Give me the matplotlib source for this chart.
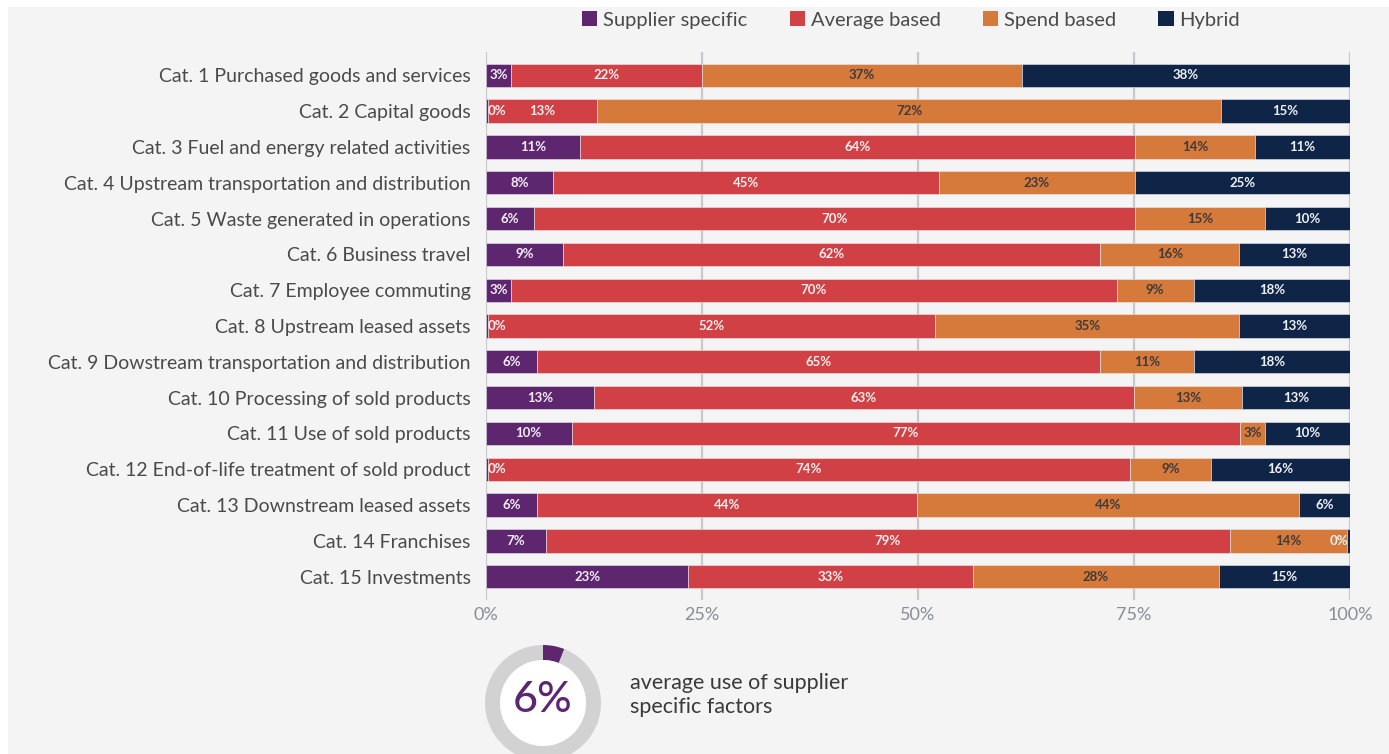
import numpy as np
import matplotlib.pyplot as plt
from matplotlib.patches import Patch, Circle

# ----------------------------
# Data (share of emission factor type per Scope 3 category, %)
# ----------------------------
categories = [
    'Cat. 1 Purchased goods and services',
    'Cat. 2 Capital goods',
    'Cat. 3 Fuel and energy related activities',
    'Cat. 4 Upstream transportation and distribution',
    'Cat. 5 Waste generated in operations',
    'Cat. 6 Business travel',
    'Cat. 7 Employee commuting',
    'Cat. 8 Upstream leased assets',
    'Cat. 9 Dowstream transportation and distribution',
    'Cat. 10 Processing of sold products',
    'Cat. 11 Use of sold products',
    'Cat. 12 End-of-life treatment of sold product',
    'Cat. 13 Downstream leased assets',
    'Cat. 14 Franchises',
    'Cat. 15 Investments',
]
supplier = [2.9, 0.2, 10.9, 7.8, 5.5, 8.9, 2.9, 0.2, 5.9, 12.5, 9.9, 0.2, 5.9, 6.9, 23.4]
average = [22.1, 12.7, 64.2, 44.6, 69.6, 62.2, 70.1, 51.8, 65.2, 62.5, 77.4, 74.3, 44.0, 79.2, 33.0]
spend = [37.0, 72.2, 13.9, 22.7, 15.1, 16.1, 8.9, 35.2, 10.8, 12.5, 2.9, 9.4, 44.2, 13.6, 28.4]
hybrid = [38.0, 14.9, 11.0, 24.9, 9.8, 12.8, 18.1, 12.8, 18.1, 12.5, 9.8, 16.1, 5.9, 0.3, 15.2]

series_names = ['Supplier specific', 'Average based', 'Spend based', 'Hybrid']
series_colors = ['#5d266e', '#d04045', '#d67a3c', '#0f2548']
label_colors = ['#f2eef4', '#f6eeee', '#3d3a3a', '#eef0f4']

xticks = [0, 25, 50, 75, 100]
xtick_labels = ['0%', '25%', '50%', '75%', '100%']

avg_supplier_share = 6
donut_text = 'average use of supplier\nspecific factors'

BG = '#f3f4f3'
FONT = 'Lato'

plt.rcParams['font.family'] = [FONT, 'DejaVu Sans']

# ----------------------------
# Figure
# ----------------------------
W, H = 1389, 754
fig = plt.figure(figsize=(W / 100, H / 100), dpi=100)
fig.patch.set_facecolor('white')
# light panel behind everything
fig.patches.append(plt.Rectangle((8 / W, 0), 1, 1 - 7 / H, transform=fig.transFigure,
                                 facecolor=BG, edgecolor='none', zorder=-10))

ax = fig.add_axes([486 / W, 1 - 600 / H, 864 / W, 548 / H])
ax.set_facecolor(BG)

y = np.arange(len(categories))
data = [supplier, average, spend, hybrid]
left = np.zeros(len(categories))
half_w = 1.3  # keep labels inside the 0-100 range

for vals, color, tcol in zip(data, series_colors, label_colors):
    vals = np.array(vals)
    ax.barh(y, vals, left=left, height=0.65, color=color,
            edgecolor='#e6e8ec', linewidth=0.4, zorder=3)
    for yi, l, v in zip(y, left, vals):
        xc = min(max(l + v / 2, half_w), 100 - half_w)
        ax.text(xc, yi, f'{int(np.floor(v + 0.5))}%', ha='center', va='center',
                color=tcol, fontsize=9.5, fontweight='bold', zorder=4)
    left += vals

ax.set_xlim(0, 100)
ax.set_ylim(len(categories) - 0.35, -0.65)
ax.set_yticks(y)
ax.set_yticklabels(categories, fontsize=14, color='#4a4a4a')
ax.set_xticks(xticks)
ax.set_xticklabels(xtick_labels, fontsize=13, color='#8a8c99')
ax.tick_params(axis='y', length=0, pad=11)
ax.tick_params(axis='x', length=0, pad=5)
ax.grid(axis='x', color='#c8c8cc', linewidth=1.6, zorder=0)
for s in ax.spines.values():
    s.set_visible(False)

# ----------------------------
# Legend
# ----------------------------
handles = [Patch(facecolor=c, edgecolor='none') for c in series_colors]
fig.legend(handles, series_names, loc='center', bbox_to_anchor=(911 / W, 1 - 20 / H),
           ncol=4, frameon=False, fontsize=14.5, handlelength=0.75, handleheight=0.75,
           handletextpad=0.3, columnspacing=2.1, labelcolor='#4a4a4a')

# ----------------------------
# Donut
# ----------------------------
r = 58
dax = fig.add_axes([(543 - r) / W, 1 - (703 + r) / H, 2 * r / W, 2 * r / H])
dax.pie([avg_supplier_share, 100 - avg_supplier_share], startangle=90, counterclock=False,
        colors=['#5d266e', '#d2d2d2'], wedgeprops=dict(width=0.26, linewidth=0))
dax.add_patch(Circle((0, 0), 0.74, facecolor='white', edgecolor='none'))
dax.text(0, 0.05, f'{avg_supplier_share}%', ha='center', va='center',
         fontsize=31, color='#5d266e', fontweight='medium')
dax.set_xlim(-1, 1)
dax.set_ylim(-1, 1)
dax.set_aspect('equal')
dax.axis('off')

fig.text(630 / W, 1 - 695 / H, donut_text, ha='left', va='center',
         fontsize=15.5, color='#3a3a3a', linespacing=1.25)

fig.savefig('out.png', dpi=100, facecolor=fig.get_facecolor())
